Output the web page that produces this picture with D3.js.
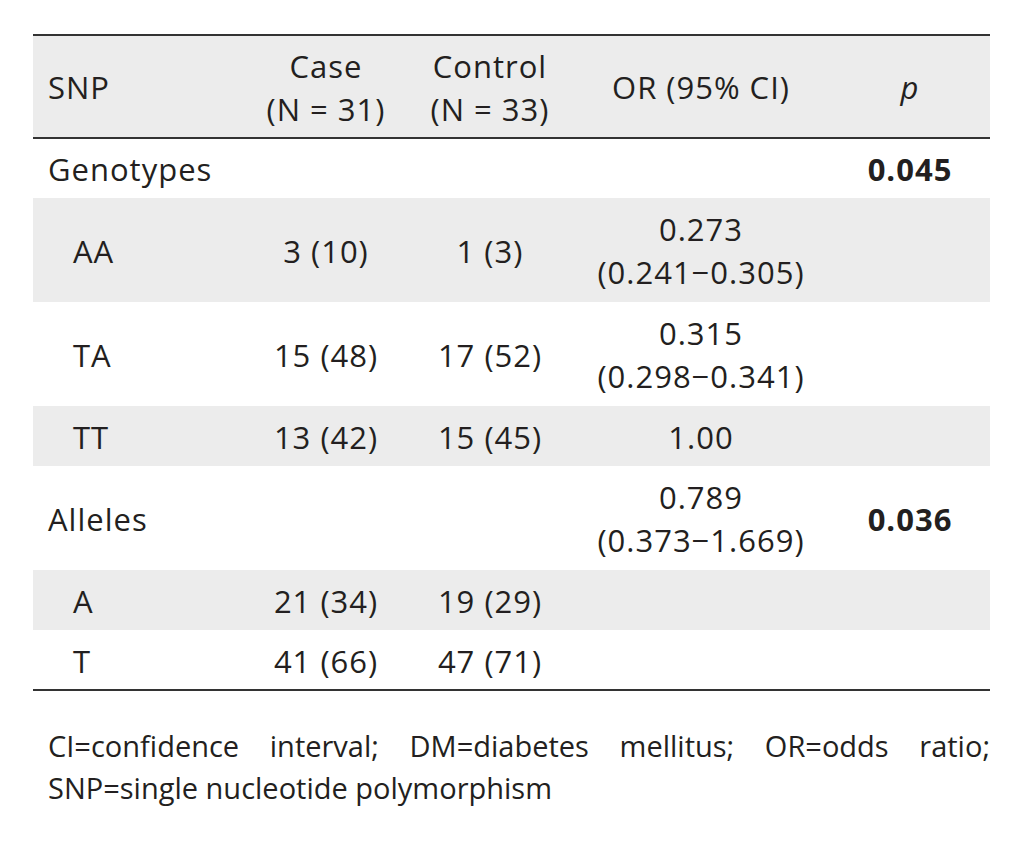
<!DOCTYPE html>
<html><head><meta charset="utf-8">
<script src="https://cdn.jsdelivr.net/npm/d3@7"></script>
<style>
html,body{margin:0;padding:0;background:#fff;}
svg{display:block;}
text{font-family:"Open Sans",sans-serif;fill:#231f20;}
</style></head>
<body><div id="chart"></div>
<script>
// ---- data ----
const headers = [["SNP"], ["Case", "(N = 31)"], ["Control", "(N = 33)"], ["OR (95% CI)"], ["p"]];
const rowLabels = ["Genotypes", "AA", "TA", "TT", "Alleles", "A", "T"];
const rowIndent = [false, true, true, true, false, true, true];
const rowShaded = [false, true, false, true, false, true, false];
const caseVals = ["", "3 (10)", "15 (48)", "13 (42)", "", "21 (34)", "41 (66)"];
const controlVals = ["", "1 (3)", "17 (52)", "15 (45)", "", "19 (29)", "47 (71)"];
const orVals = ["", "0.273", "0.315", "1.00", "0.789", "", ""];
const ciVals = ["", "(0.241\u22120.305)", "(0.298\u22120.341)", "", "(0.373\u22121.669)", "", ""];
const pVals = ["0.045", "", "", "", "0.036", "", ""];
const footLine1 = ["CI=confidence", "interval;", "DM=diabetes", "mellitus;", "OR=odds", "ratio;"];
const footLine2 = "SNP=single nucleotide polymorphism";

// ---- layout ----
const W = 1023, H = 844;
const tLeft = 33, tRight = 990, tTop = 35;
const fs = 31, ls = 1, footFs = 29;
const svg = d3.select("#chart").append("svg").attr("width", W).attr("height", H);

const cols = ["snp", "case", "control", "or", "p"];
const colX = d3.scaleOrdinal().domain(cols).range([48, 326, 490, 701, 910]);
const lineGap = 43;
const headerH = 103;
const rowH = rowLabels.map((d, i) => ciVals[i] ? 104 : 60);
const rowY = [];
let acc = tTop + headerH;
rowH.forEach(h => { rowY.push(acc); acc += h; });
const tBottom = acc;

svg.append("rect").attr("x", tLeft).attr("y", tTop).attr("width", tRight - tLeft).attr("height", headerH).attr("fill", "#ececec");
svg.selectAll("rect.row").data(rowLabels).enter().append("rect").attr("class", "row")
  .attr("x", tLeft).attr("y", (d, i) => rowY[i]).attr("width", tRight - tLeft).attr("height", (d, i) => rowH[i])
  .attr("fill", (d, i) => rowShaded[i] ? "#ececec" : "#fff");

[tTop, tTop + headerH, tBottom].forEach(y => {
  svg.append("line").attr("x1", tLeft).attr("x2", tRight).attr("y1", y).attr("y2", y)
    .attr("stroke", "#333").attr("stroke-width", 2);
});

function multi(x, yc, lines, anchor, opts = {}) {
  const n = lines.length;
  lines.forEach((t, k) => {
    const y = yc + (k - (n - 1) / 2) * lineGap;
    const el = svg.append("text").attr("x", x).attr("y", y).attr("dy", "0.35em")
      .attr("text-anchor", anchor).style("font-size", fs + "px").style("letter-spacing", ls + "px").text(t);
    if (opts.bold) el.style("font-weight", "bold");
    if (opts.italic) el.style("font-style", "italic");
  });
}

const hyc = tTop + headerH / 2 + 2;
headers.forEach((h, j) => {
  multi(colX(cols[j]), hyc, h, j === 0 ? "start" : "middle", { italic: j === 4 });
});

rowLabels.forEach((lab, i) => {
  const yc = rowY[i] + rowH[i] / 2 + 2;
  multi(colX("snp") + (rowIndent[i] ? 25 : 0), yc, [lab], "start");
  if (caseVals[i]) multi(colX("case"), yc, [caseVals[i]], "middle");
  if (controlVals[i]) multi(colX("control"), yc, [controlVals[i]], "middle");
  const orLines = [orVals[i], ciVals[i]].filter(s => s);
  if (orLines.length) multi(colX("or"), yc, orLines, "middle");
  if (pVals[i]) multi(colX("p"), yc, [pVals[i]], "middle", { bold: true });
});

const fy1 = 747, fy2 = 789, fx0 = 48, fx1 = 990;
const words = footLine1.map(w => svg.append("text").attr("y", fy1).attr("dy", "0.35em").style("font-size", footFs + "px").text(w));
const widths = words.map(w => w.node().getComputedTextLength());
const gap = (fx1 - fx0 - d3.sum(widths)) / (words.length - 1);
let cx = fx0;
words.forEach((w, k) => { w.attr("x", cx); cx += widths[k] + gap; });
svg.append("text").attr("x", fx0).attr("y", fy2).attr("dy", "0.35em").style("font-size", footFs + "px").text(footLine2);
</script></body></html>
